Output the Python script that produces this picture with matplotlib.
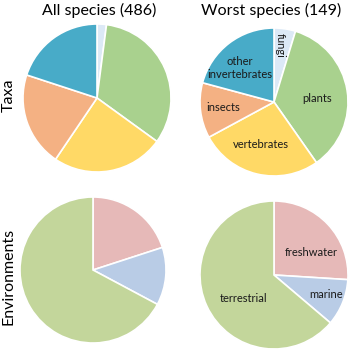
import matplotlib.pyplot as plt

plt.rcParams['font.family'] = ['Lato', 'DejaVu Sans']

# taxa, clockwise from 12 o'clock
taxa = ['fungi', 'plants', 'vertebrates', 'insects', 'other\ninvertebrates']
taxa_all = [10, 160, 119, 100, 97]
taxa_worst = [7, 53, 40, 18, 31]
taxa_colors = ['#dce9f6', '#a9d18e', '#ffd966', '#f4b183', '#48abc8']

envs = ['freshwater', 'marine', 'terrestrial']
env_all = [20.0, 12.8, 67.2]
env_worst = [26.0, 10.2, 63.8]
env_colors = ['#e6b9b8', '#b9cce6', '#c3d69b']

# label spots (data coords inside the pie)
taxa_label_pos = [(0.09, 0.76), (0.58, 0.05), (-0.18, -0.58), (-0.68, -0.08), (-0.46, 0.46)]
env_label_pos = [(0.51, 0.31), (0.70, -0.27), (-0.41, -0.32)]

W, H = 350, 352
fig = plt.figure(figsize=(W / 100, H / 100), dpi=100)


def pie_axes(cx, cy, r):
    ax = fig.add_axes([(cx - r) / W, 1 - (cy + r) / H, 2 * r / W, 2 * r / H])
    return ax


def draw(ax, vals, colors, labels=None, pos=None):
    wedges, _ = ax.pie(vals, colors=colors, startangle=90, counterclock=False,
                       wedgeprops=dict(edgecolor='white', linewidth=1.2))
    for w in wedges:
        w.set_clip_on(False)
    ax.set_xlim(-1, 1)
    ax.set_ylim(-1, 1)
    ax.set_aspect('equal')
    ax.axis('off')
    if labels:
        for lab, (x, y) in zip(labels, pos):
            rot = 270 if lab == 'fungi' else 0
            ax.text(x, y, lab, ha='center', va='center', fontsize=8,
                    rotation=rot, color='#1a1a1a', linespacing=1.3)


draw(pie_axes(97, 98, 74), taxa_all, taxa_colors)
draw(pie_axes(274, 102, 74), taxa_worst, taxa_colors, taxa, taxa_label_pos)
draw(pie_axes(93, 270, 73), env_all, env_colors)
draw(pie_axes(274, 275, 74), env_worst, env_colors, envs, env_label_pos)

fig.text(99 / W, 1 - 10 / H, 'All species (486)', ha='center', va='center', fontsize=11.5)
fig.text(271 / W, 1 - 10 / H, 'Worst species (149)', ha='center', va='center', fontsize=11.5)
fig.text(9 / W, 1 - 95 / H, 'Taxa', ha='center', va='center', fontsize=11.5, rotation=90)
fig.text(9 / W, 1 - 276 / H, 'Environments', ha='center', va='center', fontsize=11.5, rotation=90)

fig.savefig('out.png', dpi=100)
